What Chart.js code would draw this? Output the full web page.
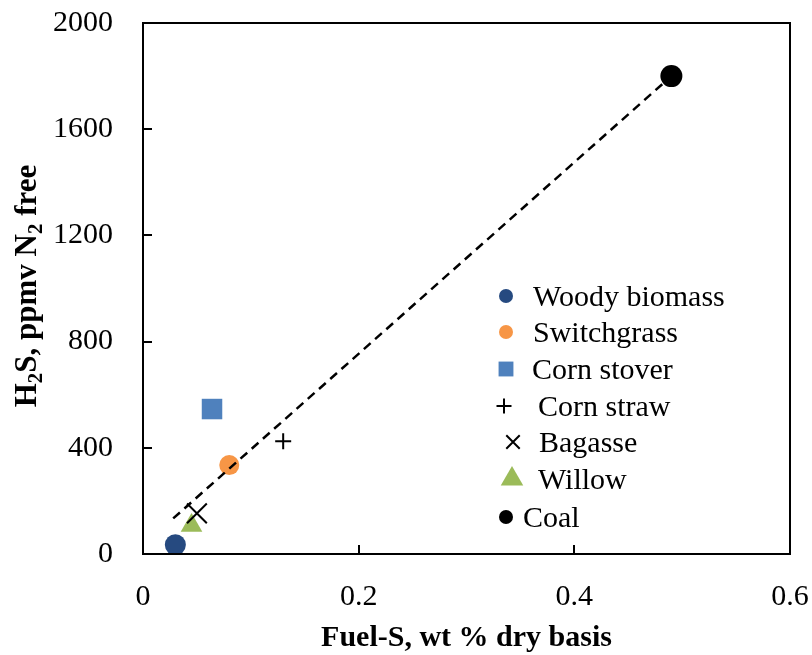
<!DOCTYPE html>
<html>
<head>
<meta charset="utf-8">
<script src="https://cdn.jsdelivr.net/npm/chart.js@4.4.1/dist/chart.umd.min.js"></script>
<style>
  html, body { margin: 0; background: #fff; }
  #wrap { width: 812px; height: 655px; }
</style>
</head>
<body>
<div id="wrap"><canvas id="grafico"></canvas></div>
<script>
// dados (Fuel-S em % base seca, H2S em ppmv livre de N2)
const nomesSeries = ['Woody biomass', 'Switchgrass', 'Corn stover', 'Corn straw', 'Bagasse', 'Willow', 'Coal'];
const fuelS = [0.030, 0.080, 0.064, 0.130, 0.050, 0.045, 0.490];
const h2s = [35, 335, 546, 425, 153, 107, 1800];
const tendenciaX = [0.028, 0.490];
const tendenciaY = [134, 1800];
const ticksX = [0, 0.2, 0.4, 0.6];
const ticksY = [0, 400, 800, 1200, 1600, 2000];

const FONTE = '"Liberation Serif", "Times New Roman", serif';

// estilo de cada marcador (gráfico e legenda)
const estilos = [
    { style: 'circle',   cor: '#264A80', raio: 10.5, leg: 7 },
    { style: 'circle',   cor: '#F79646', raio: 10,   leg: 7 },
    { style: 'rect',     cor: '#4F81BD', raio: 14.5, leg: 10.5 },
    { style: 'cross',    cor: '#000000', raio: 8,    leg: 7.5 },
    { style: 'crossRot', cor: '#000000', raio: 14,   leg: 9.5 },
    { style: 'triangle', cor: '#9BBB59', raio: 12.5, leg: 13 },
    { style: 'circle',   cor: '#000000', raio: 11,   leg: 7 }
];

// posições dos itens na legenda desenhada dentro da área do gráfico
const legendaLayout = [
    { mx: 506, tx: 533, y: 296 },
    { mx: 506, tx: 533, y: 332 },
    { mx: 506, tx: 532, y: 369 },
    { mx: 504, tx: 538, y: 406 },
    { mx: 513, tx: 539, y: 442 },
    { mx: 512, tx: 538, y: 479 },
    { mx: 506, tx: 523, y: 517 }
];

function desenhaMarcador(ctx, tipo, x, y, r, cor) {
    ctx.save();
    ctx.fillStyle = cor;
    ctx.strokeStyle = cor;
    ctx.lineWidth = 2;
    ctx.beginPath();
    if (tipo === 'circle') {
        ctx.arc(x, y, r, 0, Math.PI * 2);
        ctx.fill();
    } else if (tipo === 'rect') {
        const s = r * Math.SQRT1_2;
        ctx.fillRect(x - s, y - s, 2 * s, 2 * s);
    } else if (tipo === 'cross') {
        ctx.moveTo(x - r, y); ctx.lineTo(x + r, y);
        ctx.moveTo(x, y - r); ctx.lineTo(x, y + r);
        ctx.stroke();
    } else if (tipo === 'crossRot') {
        const d = r * Math.SQRT1_2;
        ctx.moveTo(x - d, y - d); ctx.lineTo(x + d, y + d);
        ctx.moveTo(x - d, y + d); ctx.lineTo(x + d, y - d);
        ctx.stroke();
    } else if (tipo === 'triangle') {
        ctx.moveTo(x, y - r);
        ctx.lineTo(x + r * Math.sin(Math.PI / 3), y + r / 2);
        ctx.lineTo(x - r * Math.sin(Math.PI / 3), y + r / 2);
        ctx.closePath();
        ctx.fill();
    }
    ctx.restore();
}

// moldura, marcas de escala para dentro, títulos e legenda
const pluginMoldura = {
    id: 'moldura',
    afterDraw(chart) {
        const ctx = chart.ctx;
        const a = chart.chartArea;
        const sx = chart.scales.x, sy = chart.scales.y;
        ctx.save();
        ctx.strokeStyle = '#000';
        ctx.lineWidth = 2;
        ctx.strokeRect(a.left, a.top, a.right - a.left, a.bottom - a.top);
        ctx.beginPath();
        ticksY.forEach(v => {
            const py = Math.round(sy.getPixelForValue(v));
            ctx.moveTo(a.left, py); ctx.lineTo(a.left + 9, py);
        });
        ticksX.forEach(v => {
            const px = Math.round(sx.getPixelForValue(v));
            ctx.moveTo(px, a.bottom); ctx.lineTo(px, a.bottom - 9);
        });
        ctx.stroke();

        // título do eixo X
        ctx.fillStyle = '#000';
        ctx.font = 'bold 30px ' + FONTE;
        ctx.textAlign = 'center';
        ctx.textBaseline = 'alphabetic';
        ctx.fillText('Fuel-S, wt % dry basis', (a.left + a.right) / 2, 646);

        // título do eixo Y com subscritos
        const partes = [['H', 0], ['2', 1], ['S, ppmv N', 0], ['2', 1], [' free', 0]];
        const fN = 'bold 31px ' + FONTE, fS = 'bold 21px ' + FONTE;
        let total = 0;
        partes.forEach(p => { ctx.font = p[1] ? fS : fN; total += ctx.measureText(p[0]).width; });
        ctx.translate(36, 286);
        ctx.rotate(-Math.PI / 2);
        ctx.textAlign = 'left';
        let cx = -total / 2;
        partes.forEach(p => {
            ctx.font = p[1] ? fS : fN;
            ctx.fillText(p[0], cx, p[1] ? 6 : 0);
            cx += ctx.measureText(p[0]).width;
        });
        ctx.setTransform(1, 0, 0, 1, 0, 0);

        // legenda
        ctx.font = '30px ' + FONTE;
        ctx.textAlign = 'left';
        ctx.textBaseline = 'middle';
        nomesSeries.forEach((nome, i) => {
            const l = legendaLayout[i], e = estilos[i];
            desenhaMarcador(ctx, e.style, l.mx, l.y, e.leg, e.cor);
            ctx.fillStyle = '#000';
            ctx.fillText(nome, l.tx, l.y + 2);
        });
        ctx.restore();
    }
};

const datasets = [{
    label: 'Tendência',
    data: tendenciaX.map((x, i) => ({ x: x, y: tendenciaY[i] })),
    showLine: true,
    borderColor: '#000',
    borderWidth: 2.5,
    borderDash: [9, 6],
    pointRadius: 0,
    fill: false,
    order: 0
}];
nomesSeries.forEach((nome, i) => {
    const e = estilos[i];
    const linha = e.style === 'cross' || e.style === 'crossRot';
    datasets.push({
        label: nome,
        data: [{ x: fuelS[i], y: h2s[i] }],
        pointStyle: e.style,
        pointRadius: e.raio,
        backgroundColor: e.cor,
        borderColor: e.cor,
        borderWidth: linha ? 2 : 0,
        order: 1
    });
});

new Chart(document.getElementById('grafico'), {
    type: 'scatter',
    data: { datasets },
    options: {
        responsive: true,
        maintainAspectRatio: false,
        animation: false,
        layout: { padding: { top: 23, right: 22, left: 0, bottom: 0 } },
        plugins: { legend: { display: false }, tooltip: { enabled: false } },
        scales: {
            x: {
                type: 'linear', min: 0, max: 0.6,
                afterBuildTicks: s => { s.ticks = ticksX.map(v => ({ value: v })); },
                afterFit: s => { s.height = 101; s.paddingLeft = 0; s.paddingRight = 0; },
                grid: { display: false, drawTicks: false },
                border: { display: false },
                ticks: { color: '#000', padding: 25, maxRotation: 0, font: { family: FONTE, size: 30 },
                         callback: v => String(v) }
            },
            y: {
                type: 'linear', min: 0, max: 2000,
                afterBuildTicks: s => { s.ticks = ticksY.map(v => ({ value: v })); },
                afterFit: s => { s.width = 143; s.paddingTop = 0; s.paddingBottom = 0; },
                grid: { display: false, drawTicks: false },
                border: { display: false },
                ticks: { color: '#000', padding: 30, font: { family: FONTE, size: 30 },
                         callback: v => String(v) }
            }
        }
    },
    plugins: [pluginMoldura]
});
</script>
</body>
</html>
